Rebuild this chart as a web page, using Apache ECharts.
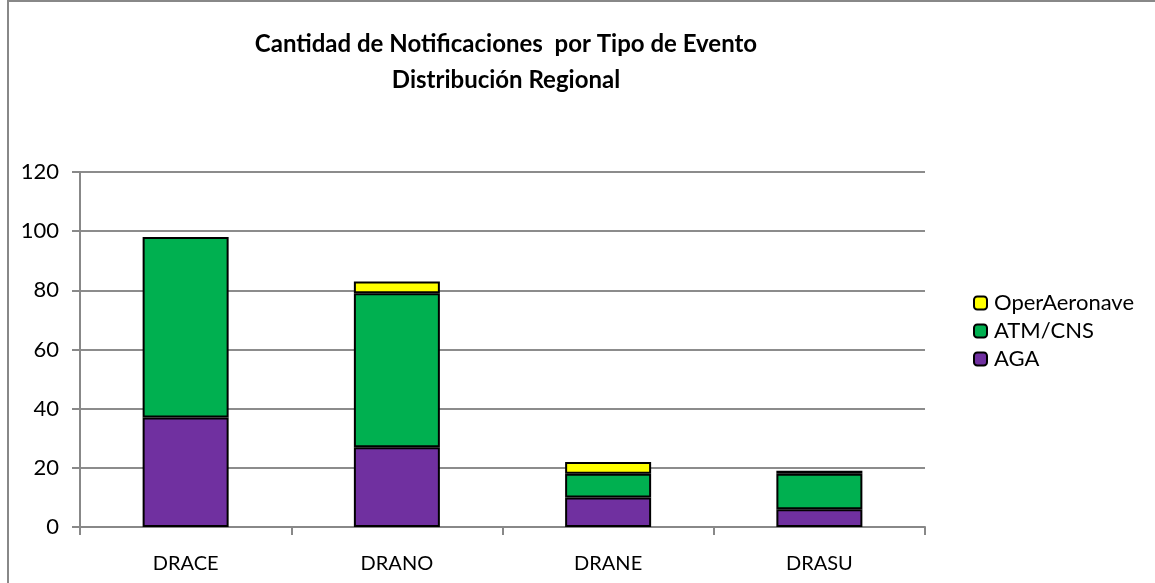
<!DOCTYPE html>
<html>
<head>
<meta charset="utf-8">
<script src="https://cdn.jsdelivr.net/npm/echarts@6/dist/echarts.min.js"></script>
<style>
html, body { margin: 0; padding: 0; background: #fff; }
#chart { width: 1155px; height: 583px; }
</style>
</head>
<body>
<div id="chart"></div>
<script>
// datos
var regiones = ['DRACE', 'DRANO', 'DRANE', 'DRASU'];
var aga = [37, 27, 10, 6];
var atmCns = [61, 52, 8, 12];
var operAeronave = [0, 4, 4, 1];
var yTicks = [0, 20, 40, 60, 80, 100, 120];

var fuente = 'Lato, "Noto Sans", sans-serif';

function serie(nombre, datos, color) {
    return {
        name: nombre,
        type: 'bar',
        stack: 'total',
        barWidth: 86,
        // los ceros no se dibujan
        data: datos.map(function (v) { return v === 0 ? '-' : v; }),
        itemStyle: { color: color, borderColor: '#000', borderWidth: 2 },
        emphasis: { disabled: true }
    };
}

var option = {
    animation: false,
    backgroundColor: '#fff',
    textStyle: { fontFamily: fuente },
    title: {
        text: 'Cantidad de Notificaciones  por Tipo de Evento\nDistribución Regional',
        left: 501,
        top: 21,
        textAlign: 'center',
        textStyle: { fontSize: 24, fontWeight: 'bold', color: '#000', lineHeight: 36, fontFamily: fuente }
    },
    legend: {
        orient: 'vertical',
        left: 968,
        top: 287,
        itemWidth: 13,
        itemHeight: 13,
        itemGap: 6,
        data: ['OperAeronave', 'ATM/CNS', 'AGA'],
        textStyle: { fontSize: 22, color: '#000', fontFamily: fuente, padding: [0, 0, 0, 2] },
        itemStyle: { borderColor: '#000', borderWidth: 2 }
    },
    grid: { left: 80, right: 230, top: 172, bottom: 56 },
    xAxis: {
        type: 'category',
        data: regiones,
        axisLine: { lineStyle: { color: '#888', width: 2 } },
        axisTick: { show: true, length: 8, lineStyle: { color: '#888', width: 2 } },
        axisLabel: { fontSize: 20, color: '#000', margin: 27 }
    },
    yAxis: {
        type: 'value',
        min: yTicks[0],
        max: yTicks[yTicks.length - 1],
        interval: yTicks[1] - yTicks[0],
        axisLine: { show: true, lineStyle: { color: '#888', width: 2 } },
        axisTick: { show: true, length: 8, lineStyle: { color: '#888', width: 2 } },
        splitLine: { lineStyle: { color: '#8c8c8c', width: 2 } },
        axisLabel: { fontSize: 22, color: '#000', margin: 21 }
    },
    graphic: [{
        type: 'rect',
        shape: { x: 8, y: 1, width: 1300, height: 800 },
        style: { fill: 'none', stroke: '#888', lineWidth: 2 },
        silent: true
    }],
    series: [
        serie('AGA', aga, '#7030A0'),
        serie('ATM/CNS', atmCns, '#00B050'),
        serie('OperAeronave', operAeronave, '#FFFF00')
    ]
};

var chart = echarts.init(document.getElementById('chart'));
chart.setOption(option);
</script>
</body>
</html>
